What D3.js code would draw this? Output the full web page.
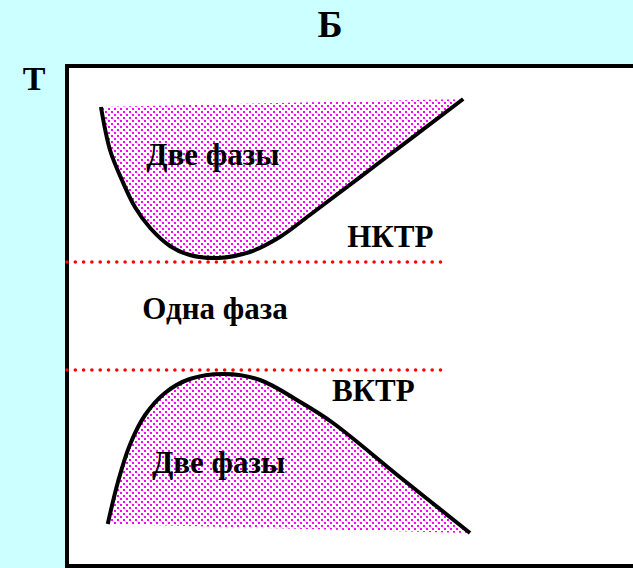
<!DOCTYPE html>
<html>
<head>
<meta charset="utf-8">
<script src="https://cdn.jsdelivr.net/npm/d3@7"></script>
<style>
  html, body { margin: 0; padding: 0; background: #ccffff; }
  svg { display: block; }
</style>
</head>
<body>
<svg id="chart" width="633" height="568"></svg>
<script>
// composition (x, %) vs temperature (y, arbitrary units)
let upperCurve = [
    [6.0, 91.8], [7.6, 83.2], [9.7, 77.2], [12.0, 71.8], [14.7, 67.6],
    [18.2, 64.0], [21.7, 62.2], [26.7, 61.6], [32.3, 62.8], [37.6, 65.8],
    [42.9, 70.2], [55.3, 80.8], [70.0, 93.4]
];
let lowerCurve = [
    [7.2, 8.4], [9.0, 16.8], [11.1, 24.2], [13.8, 30.2], [17.3, 34.6],
    [21.7, 37.4], [27.9, 38.4], [34.1, 37.2], [41.2, 32.8], [47.0, 28.6],
    [58.8, 17.8], [71.2, 6.6]
];
let criticalLines = [60.8, 39.2];   // НКТР, ВКТР levels
let lineSpan = [0, 66];
let labels = [
    {text: "Две фазы", x: 14, y: 80.2},
    {text: "НКТР", x: 49.5, y: 63.8},
    {text: "Одна фаза", x: 13.3, y: 49.4},
    {text: "ВКТР", x: 46.8, y: 33.0},
    {text: "Две фазы", x: 15, y: 18.6}
];

let svg = d3.select("#chart");
let boxLeft = 67, boxTop = 66, boxBottom = 566;
let x = d3.scaleLinear().domain([0, 100]).range([boxLeft, 633]);
let y = d3.scaleLinear().domain([0, 100]).range([boxBottom, boxTop]);

// dotted fill
let defs = svg.append("defs");
let pat = defs.append("pattern")
    .attr("id", "dots")
    .attr("patternUnits", "userSpaceOnUse")
    .attr("width", 6)
    .attr("height", 6);
pat.append("rect").attr("x", 0).attr("y", 0).attr("width", 2).attr("height", 2).attr("fill", "#ff00ff");
pat.append("rect").attr("x", 3).attr("y", 3).attr("width", 2).attr("height", 2).attr("fill", "#ff00ff");

// plot box
svg.append("rect")
    .attr("x", boxLeft)
    .attr("y", boxTop)
    .attr("width", 620)
    .attr("height", boxBottom - boxTop)
    .attr("fill", "white")
    .attr("stroke", "black")
    .attr("stroke-width", 4);

let line = d3.line()
    .curve(d3.curveCatmullRom.alpha(0.5))
    .x((d) => x(d[0]))
    .y((d) => y(d[1]));

[upperCurve, lowerCurve].forEach(function (c) {
    svg.append("path")
        .attr("d", line(c) + "Z")
        .attr("fill", "url(#dots)")
        .attr("stroke", "none");
});

// critical temperature lines
svg.selectAll(".crit")
    .data(criticalLines)
    .enter()
    .append("line")
    .attr("class", "crit")
    .attr("x1", x(lineSpan[0]))
    .attr("x2", x(lineSpan[1]))
    .attr("y1", (d) => y(d))
    .attr("y2", (d) => y(d))
    .attr("stroke", "red")
    .attr("stroke-width", 3.6)
    .attr("stroke-linecap", "round")
    .attr("stroke-dasharray", "0 8.3");

[upperCurve, lowerCurve].forEach(function (c) {
    svg.append("path")
        .attr("d", line(c))
        .attr("fill", "none")
        .attr("stroke", "black")
        .attr("stroke-width", 4);
});

svg.selectAll(".lbl")
    .data(labels)
    .enter()
    .append("text")
    .attr("class", "lbl")
    .attr("x", (d) => x(d.x))
    .attr("y", (d) => y(d.y))
    .attr("font-family", "Liberation Serif, Times New Roman, serif")
    .attr("font-weight", "bold")
    .attr("font-size", 31)
    .attr("fill", "black")
    .text((d) => d.text);

// axis titles
svg.append("text")
    .attr("x", 330)
    .attr("y", 37)
    .attr("text-anchor", "middle")
    .attr("font-family", "Liberation Serif, Times New Roman, serif")
    .attr("font-weight", "bold")
    .attr("font-size", 38)
    .text("Б");

svg.append("text")
    .attr("x", 34)
    .attr("y", 90)
    .attr("text-anchor", "middle")
    .attr("font-family", "Liberation Serif, Times New Roman, serif")
    .attr("font-weight", "bold")
    .attr("font-size", 34)
    .text("Т");
</script>
</body>
</html>
